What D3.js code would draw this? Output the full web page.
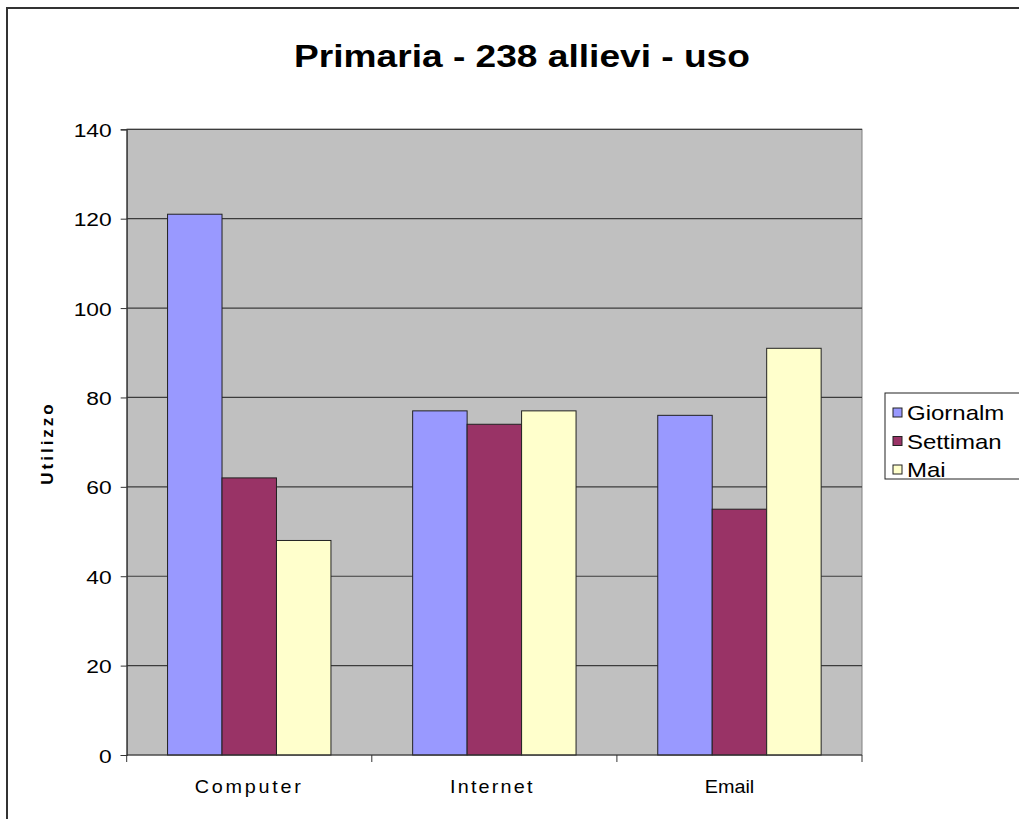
<!DOCTYPE html>
<head>
  <meta charset="utf-8">
  <script src="https://d3js.org/d3.v7.min.js"></script>
  <style>
body { margin: 0; background: white; }
svg { display: block; background-color: white; }
text { font-family: 'Liberation Sans', Arial, sans-serif; fill: #000; }
  </style>
</head>
<body>
<svg width="1019" height="819"></svg>
<script>
// dati
var categories = ["Computer", "Internet", "Email"];
var series = ["Giornalm", "Settiman", "Mai"];
var giornalm = [121, 77, 76];
var settiman = [62, 74, 55];
var mai = [48, 77, 91];
var yTicks = [0, 20, 40, 60, 80, 100, 120, 140];
var colors = ["#9999ff", "#993366", "#ffffcc"];

var values = [giornalm, settiman, mai];
var rows = categories.map(function(c, i) {
  return { cat: c, vals: series.map(function(s, j) { return { s: s, v: values[j][i] }; }) };
});

var plot = { left: 126.7, right: 862, top: 129.3, bottom: 755 };

var svg = d3.select("svg");

// il grafico originale e' un po' allargato in orizzontale
function stretch(sel, px, py, sx) {
  sel.attr("x", 0).attr("y", 0)
     .attr("transform", "translate(" + px + "," + py + ") scale(" + sx + ",1)");
}

// bordo esterno
svg.append("rect")
   .attr("x", 7).attr("y", 8)
   .attr("width", 1030).attr("height", 830)
   .attr("fill", "white")
   .attr("stroke", "#333").attr("stroke-width", 2);

var x = d3.scaleBand()
          .domain(categories)
          .range([plot.left, plot.right])
          .paddingInner(0).paddingOuter(0);

var bandPad = x.bandwidth() * (1 - 3 / 4.5) / 2;
var xs = d3.scaleBand()
           .domain(series)
           .range([bandPad, x.bandwidth() - bandPad]);

var y = d3.scaleLinear()
          .domain([0, 140])
          .range([plot.bottom, plot.top]);

// area del grafico
svg.append("rect")
   .attr("x", plot.left).attr("y", plot.top)
   .attr("width", plot.right - plot.left).attr("height", plot.bottom - plot.top)
   .attr("fill", "#c0c0c0")
   .attr("stroke", "#808080").attr("stroke-width", 1);

// griglia
svg.append("g").selectAll("line")
   .data(yTicks.slice(1))
   .enter().append("line")
   .attr("x1", plot.left).attr("x2", plot.right)
   .attr("y1", function(d) { return y(d); })
   .attr("y2", function(d) { return y(d); })
   .attr("stroke", "#3c3c3c").attr("stroke-width", 1.2);

// barre
var groups = svg.append("g").selectAll("g")
   .data(rows)
   .enter().append("g")
   .attr("transform", function(d) { return "translate(" + x(d.cat) + ",0)"; });

groups.selectAll("rect")
   .data(function(d) { return d.vals; })
   .enter().append("rect")
   .attr("x", function(d) { return xs(d.s); })
   .attr("width", xs.bandwidth())
   .attr("y", function(d) { return y(d.v); })
   .attr("height", function(d) { return y(0) - y(d.v); })
   .attr("fill", function(d, i) { return colors[i]; })
   .attr("stroke", "#222").attr("stroke-width", 1);

// asse y
var yAxis = d3.axisLeft(y).tickValues(yTicks).tickSize(6).tickFormat("");
var gy = svg.append("g")
   .attr("transform", "translate(" + plot.left + ",0)")
   .call(yAxis);
gy.select(".domain").attr("stroke", "#333").attr("stroke-width", 1.2);
gy.selectAll(".tick line").attr("stroke", "#333");
gy.selectAll(".tick").append("text")
  .attr("text-anchor", "end")
  .style("font-size", "19px")
  .text(function(d) { return d; })
  .each(function() { stretch(d3.select(this), -15, 7, 1.2); });

// asse x
var gx = svg.append("g")
   .attr("transform", "translate(0," + plot.bottom + ")");
gx.append("line")
  .attr("x1", plot.left).attr("x2", plot.right)
  .attr("stroke", "#333").attr("stroke-width", 1.2);
gx.selectAll(".tk")
  .data(categories.concat([null]))
  .enter().append("line")
  .attr("class", "tk")
  .attr("x1", function(d, i) { return plot.left + i * x.step(); })
  .attr("x2", function(d, i) { return plot.left + i * x.step(); })
  .attr("y1", 0).attr("y2", 7)
  .attr("stroke", "#333");
var lblSpacing = { Computer: "2.5px", Internet: "2px", Email: "0px" };
var lblShift = { Computer: 0, Internet: -2, Email: -10 };
gx.selectAll(".lbl")
  .data(categories)
  .enter().append("text")
  .attr("class", "lbl")
  .attr("text-anchor", "middle")
  .style("font-size", "18px")
  .style("letter-spacing", function(d) { return lblSpacing[d]; })
  .text(function(d) { return d; })
  .each(function(d) { stretch(d3.select(this), x(d) + x.bandwidth() / 2 + lblShift[d], 38, 1.1); });

// titolo
svg.append("text")
   .attr("text-anchor", "middle")
   .style("font-size", "32px").style("font-weight", "bold")
   .text("Primaria - 238 allievi - uso")
   .call(stretch, 522, 67, 1.16);

// etichetta asse y
svg.append("text")
   .attr("transform", "translate(53,443) rotate(-90)")
   .attr("text-anchor", "middle")
   .style("font-size", "17px").style("font-weight", "bold")
   .style("letter-spacing", "3px")
   .text("Utilizzo");

// legenda
var legend = svg.append("g");
legend.append("rect")
   .attr("x", 885).attr("y", 393)
   .attr("width", 150).attr("height", 86)
   .attr("fill", "white").attr("stroke", "#222").attr("stroke-width", 1);

var items = legend.selectAll(".item")
   .data(series)
   .enter().append("g")
   .attr("class", "item")
   .attr("transform", function(d, i) { return "translate(893," + (413 + i * 28.5) + ")"; });
items.append("rect")
   .attr("x", 0).attr("y", -5)
   .attr("width", 9).attr("height", 9)
   .attr("fill", function(d, i) { return colors[i]; })
   .attr("stroke", "#222").attr("stroke-width", 1);
items.append("text")
   .style("font-size", "20px")
   .text(function(d) { return d; })
   .each(function() { stretch(d3.select(this), 14, 7, 1.2); });
</script>
</body>
</html>
